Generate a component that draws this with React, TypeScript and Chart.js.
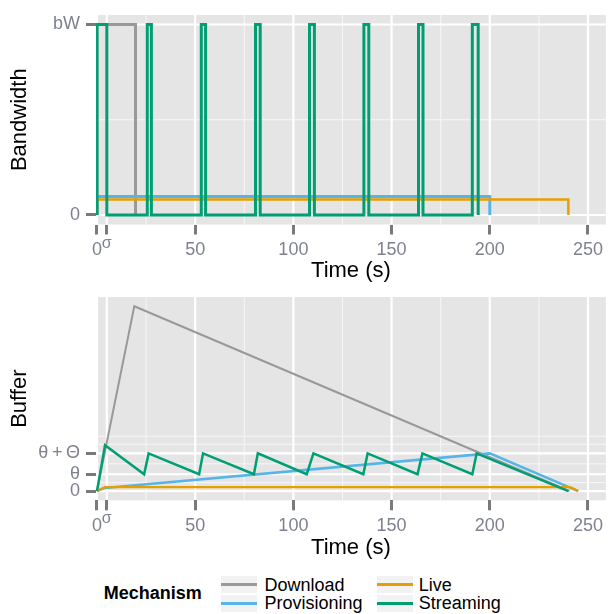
import React, { useEffect, useRef } from "react";
import { Chart, registerables } from "chart.js";

Chart.register(...registerables);

const FONT = "'Liberation Sans', Arial, Helvetica, sans-serif";
const TICK_TEXT = "#7f8190";
const TICK_MARK = "#7a7a7a";
const PANEL_BG = "#E5E5E5";

const COLORS = {
  Download: "#999999",
  Provisioning: "#56B4E9",
  Live: "#E69F00",
  Streaming: "#009E73",
};

// ---- shared time axis ----
const SIGMA = 5;
const xTickValues = [0, SIGMA, 50, 100, 150, 200, 250];
const xTickLabels = ["0", "σ", "50", "100", "150", "200", "250"];
const xMinorGrid = [25, 75, 125, 175, 225];
const X_MIN = -0.5;
const X_MAX = 259.1;

// ---- bandwidth panel ----
const bwTickValues = [0, 1];
const bwTickLabels = ["0", "bW"];
const bwMinorGrid = [0.5];
const downloadBwTime = [0, 0, 19.6, 19.6];
const downloadBw = [0, 1, 1, 0];
const provisioningBwTime = [0, 0, 200, 200];
const provisioningBw = [0, 0.097, 0.097, 0];
const liveBwTime = [0, 0, 240, 240];
const liveBw = [0, 0.081, 0.081, 0];
const streamingOnTimes = [0, 25.6, 53.1, 80.7, 108.2, 135.9, 163.7, 191.1];
const streamingOffTimes = [5, 27.7, 55.3, 83.1, 110.7, 138.4, 166.0, 194.1];

// ---- buffer panel ----
const THETA = 17.4;
const THETA_PLUS = 39.0;
const bufTickValues = [0, THETA, THETA_PLUS];
const bufTickLabels = ["0", "θ", "θ\u2009+\u2009Θ"];
const bufMinorGrid = [8.7, 28.2, 48.4, 56.7];
const downloadBufTime = [0, 19, 240.5];
const downloadBuf = [0, 191.4, 0];
const provisioningBufTime = [0, 4, 200, 245];
const provisioningBuf = [0, 3.2, 39.0, 0];
const liveBufTime = [0, 4, 241, 245];
const liveBuf = [0, 4.0, 4.0, 0];
const streamingBufTime = [0, 4.1, 24.0, 26.3, 52.0, 54.0, 79.9, 81.9, 106.8, 110.2, 135.6, 137.8, 163.2, 165.7, 191.1, 193.3, 240.0];
const streamingBuf = [0, 47.4, 17.4, 39.0, 17.4, 39.0, 17.4, 39.0, 17.4, 39.0, 17.4, 39.0, 17.4, 39.0, 17.4, 39.0, 0];

const toPoints = (xs: number[], ys: number[]) => xs.map((x, i) => ({ x, y: ys[i] }));

const streamingBwPoints = () => {
  const pts: { x: number; y: number }[] = [];
  streamingOnTimes.forEach((on, i) => {
    const off = streamingOffTimes[i];
    pts.push({ x: on, y: 0 }, { x: on, y: 1 }, { x: off, y: 1 }, { x: off, y: 0 });
  });
  return pts;
};

const panelPlugin = (xMinor: number[], yMajor: number[], yMinor: number[]) => ({
  id: "panelGrid",
  beforeDraw(chart: any) {
    const { ctx, chartArea: a, scales } = chart;
    ctx.save();
    ctx.fillStyle = PANEL_BG;
    ctx.fillRect(a.left, a.top, a.right - a.left, a.bottom - a.top);
    ctx.beginPath();
    ctx.rect(a.left, a.top, a.right - a.left, a.bottom - a.top);
    ctx.clip();
    const v = (val: number, w: number, c: string) => {
      const p = scales.x.getPixelForValue(val);
      ctx.strokeStyle = c;
      ctx.lineWidth = w;
      ctx.beginPath();
      ctx.moveTo(p, a.top);
      ctx.lineTo(p, a.bottom);
      ctx.stroke();
    };
    const h = (val: number, w: number, c: string) => {
      const p = scales.y.getPixelForValue(val);
      ctx.strokeStyle = c;
      ctx.lineWidth = w;
      ctx.beginPath();
      ctx.moveTo(a.left, p);
      ctx.lineTo(a.right, p);
      ctx.stroke();
    };
    xMinor.forEach((x) => v(x, 1, "#F7F7F7"));
    yMinor.forEach((y) => h(y, 1, "#F7F7F7"));
    xTickValues.forEach((x) => v(x, 2.2, "#FFFFFF"));
    yMajor.forEach((y) => h(y, 2.2, "#FFFFFF"));
    ctx.restore();
  },
});

const gridOpts = {
  drawOnChartArea: false,
  drawTicks: true,
  tickLength: 10,
  tickWidth: 3,
  tickColor: TICK_MARK,
  color: "transparent",
  lineWidth: 1,
};

const xAxis = (height: number, titlePadBottom: number) => ({
  type: "linear",
  min: X_MIN,
  max: X_MAX,
  afterBuildTicks: (s: any) => {
    s.ticks = xTickValues.map((value) => ({ value }));
  },
  afterFit: (s: any) => {
    s.height = height;
  },
  ticks: {
    autoSkip: false,
    maxRotation: 0,
    minRotation: 0,
    padding: 5,
    color: TICK_TEXT,
    callback: (_v: any, i: number) => xTickLabels[i],
    font: (ctx: any) =>
      ctx.index === 1
        ? { family: FONT, size: 16, lineHeight: 0.46 }
        : { family: FONT, size: 18, lineHeight: 1.2 },
  },
  grid: gridOpts,
  border: { display: false },
  title: {
    display: true,
    text: "Time (s)",
    color: "#000",
    font: { family: FONT, size: 22, lineHeight: 1 },
    padding: { top: 0, bottom: titlePadBottom },
  },
});

const yAxis = (min: number, max: number, values: number[], labels: string[], title: string) => ({
  type: "linear",
  min,
  max,
  afterBuildTicks: (s: any) => {
    s.ticks = values.map((value) => ({ value }));
  },
  afterFit: (s: any) => {
    s.width = 96;
  },
  ticks: {
    autoSkip: false,
    padding: 6,
    color: TICK_TEXT,
    callback: (_v: any, i: number) => labels[i],
    font: { family: FONT, size: 18, lineHeight: 1 },
  },
  grid: gridOpts,
  border: { display: false },
  title: {
    display: true,
    text: title,
    color: "#000",
    font: { family: FONT, size: 22, lineHeight: 1 },
    padding: { top: 9, bottom: 0 },
  },
});

const ds = (label: keyof typeof COLORS, data: any[], width: number, order: number) => ({
  label,
  data,
  borderColor: COLORS[label],
  backgroundColor: COLORS[label],
  borderWidth: width,
  pointRadius: 0,
  fill: false,
  tension: 0,
  order,
  borderJoinStyle: "miter",
  borderCapStyle: "butt",
});

export default function App() {
  const topRef = useRef<HTMLCanvasElement | null>(null);
  const botRef = useRef<HTMLCanvasElement | null>(null);

  useEffect(() => {
    const common = {
      animation: false,
      responsive: false,
      events: [],
      plugins: { legend: { display: false }, tooltip: { enabled: false } },
    };

    const top = new Chart(topRef.current as HTMLCanvasElement, {
      type: "line",
      data: {
        datasets: [
          ds("Download", toPoints(downloadBwTime, downloadBw), 3, 4),
          ds("Provisioning", toPoints(provisioningBwTime, provisioningBw), 3, 3),
          ds("Live", toPoints(liveBwTime, liveBw), 2.5, 2),
          ds("Streaming", streamingBwPoints(), 3, 1),
        ],
      },
      options: {
        ...common,
        layout: { autoPadding: false, padding: { top: 14.5, left: 0, right: 0, bottom: 0 } },
        scales: {
          x: xAxis(57.5, 0),
          y: yAxis(-0.05, 1.05, bwTickValues, bwTickLabels, "Bandwidth"),
        },
      } as any,
      plugins: [panelPlugin(xMinorGrid, bwTickValues, bwMinorGrid)],
    } as any);

    const bot = new Chart(botRef.current as HTMLCanvasElement, {
      type: "line",
      data: {
        datasets: [
          ds("Download", toPoints(downloadBufTime, downloadBuf), 2, 4),
          ds("Provisioning", toPoints(provisioningBufTime, provisioningBuf), 2.5, 3),
          ds("Live", toPoints(liveBufTime, liveBuf), 2.2, 2),
          ds("Streaming", toPoints(streamingBufTime, streamingBuf), 2.5, 1),
        ],
      },
      options: {
        ...common,
        layout: { autoPadding: false, padding: { top: 7.7, left: 0, right: 0, bottom: 0 } },
        scales: {
          x: xAxis(71.7, 13),
          y: yAxis(-9.6, 201.0, bufTickValues, bufTickLabels, "Buffer"),
        },
      } as any,
      plugins: [panelPlugin(xMinorGrid, bufTickValues, bufMinorGrid)],
    } as any);

    return () => {
      top.destroy();
      bot.destroy();
    };
  }, []);

  const txt: React.CSSProperties = {
    position: "absolute",
    fontFamily: FONT,
    fontSize: 18,
    lineHeight: "18px",
    color: "#000",
    whiteSpace: "nowrap",
  };
  const key = (left: number, cy: number, color: string): React.CSSProperties => ({
    position: "absolute",
    left,
    top: cy - 8.5,
    width: 36,
    height: 17,
    background: "#F2F2F2",
  });
  const keyLine = (color: string): React.CSSProperties => ({
    position: "absolute",
    left: 0,
    top: 7,
    width: 36,
    height: 3,
    background: color,
  });

  return (
    <div style={{ position: "absolute", left: 0, top: 0, width: 608, height: 614, background: "#fff", overflow: "hidden" }}>
      <canvas ref={topRef} width={608} height={282} style={{ position: "absolute", left: 0, top: 0, display: "block" }} />
      <canvas ref={botRef} width={608} height={290} style={{ position: "absolute", left: 0, top: 282, display: "block" }} />
      <div style={{ ...txt, left: 103.7, top: 584.3, fontWeight: "bold" }}>Mechanism</div>
      <div style={key(220.5, 584.5, COLORS.Download)}>
        <div style={keyLine(COLORS.Download)} />
      </div>
      <div style={key(220.5, 603, COLORS.Provisioning)}>
        <div style={keyLine(COLORS.Provisioning)} />
      </div>
      <div style={key(376.5, 584.5, COLORS.Live)}>
        <div style={keyLine(COLORS.Live)} />
      </div>
      <div style={key(376.5, 603, COLORS.Streaming)}>
        <div style={keyLine(COLORS.Streaming)} />
      </div>
      <div style={{ ...txt, left: 264.5, top: 575.8 }}>Download</div>
      <div style={{ ...txt, left: 264.5, top: 594 }}>Provisioning</div>
      <div style={{ ...txt, left: 418.7, top: 575.8 }}>Live</div>
      <div style={{ ...txt, left: 418.7, top: 594 }}>Streaming</div>
    </div>
  );
}
